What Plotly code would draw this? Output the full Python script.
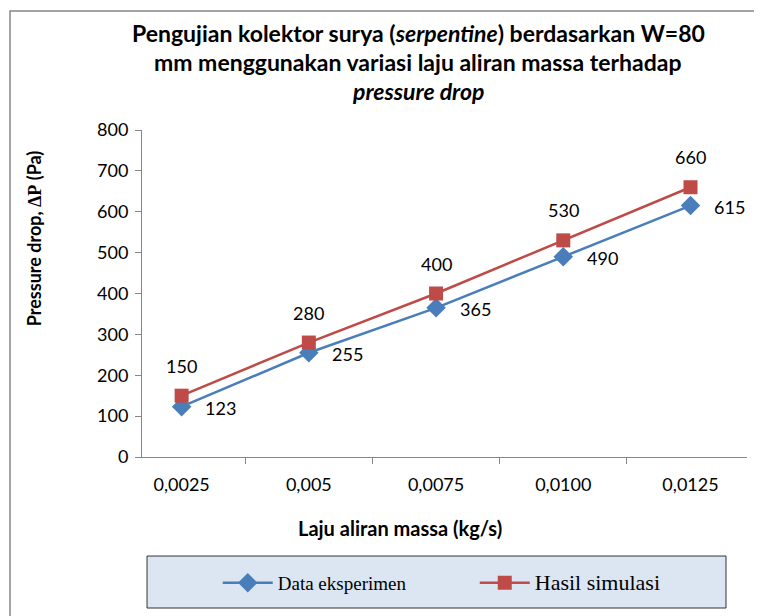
import plotly.graph_objects as go

# data
laju_massa = ["0,0025", "0,005", "0,0075", "0,0100", "0,0125"]
data_eksperimen = [123, 255, 365, 490, 615]
hasil_simulasi = [150, 280, 400, 530, 660]

title_lines = [
    "Pengujian kolektor surya (<i>serpentine</i>) berdasarkan W=80",
    "mm menggunakan variasi laju aliran massa terhadap",
    "<i>pressure drop</i>",
]

BLUE = "#4A7EBB"
RED = "#BE4B48"
AXIS = "#868686"
FONT = "Lato, Calibri, sans-serif"
SERIF = "Liberation Serif, Times New Roman, serif"

fig = go.Figure()

fig.add_trace(go.Scatter(
    x=laju_massa, y=data_eksperimen, name="Data eksperimen",
    mode="lines+markers",
    line=dict(color=BLUE, width=2.5),
    marker=dict(symbol="diamond", size=15, color=BLUE),
))
fig.add_trace(go.Scatter(
    x=laju_massa, y=hasil_simulasi,
    name='<span style="font-size:22px">Hasil simulasi</span>',
    mode="lines+markers",
    line=dict(color=RED, width=2.5),
    marker=dict(symbol="square", size=14, color=RED),
))

# data labels
for cat, v in zip(laju_massa, data_eksperimen):
    fig.add_annotation(x=cat, y=v, text=str(v), showarrow=False,
                       xshift=39, yshift=-1, font=dict(size=18, color="black"))
for cat, v in zip(laju_massa, hasil_simulasi):
    fig.add_annotation(x=cat, y=v, text=str(v), showarrow=False,
                       yshift=30, font=dict(size=18, color="black"))

# title, one line per annotation
for i, line in enumerate(title_lines):
    fig.add_annotation(xref="paper", yref="paper", x=0.457, y=1.296 - i * 0.0887,
                       text=f"<b>{line}</b>", showarrow=False,
                       xanchor="center", yanchor="middle",
                       font=dict(size=23, color="black"))

# axis titles
fig.add_annotation(xref="paper", yref="paper", x=-0.178, y=0.67,
                   text=f"<b>Pressure drop, <span style='font-family:{SERIF}'>ΔP</span> (Pa)</b>",
                   textangle=-90, showarrow=False,
                   xanchor="center", yanchor="middle", font=dict(size=18, color="black"))
fig.add_annotation(xref="paper", yref="paper", x=0.427, y=-0.217,
                   text="<b>Laju aliran massa (kg/s)</b>", showarrow=False,
                   xanchor="center", yanchor="middle", font=dict(size=20, color="black"))

# chart border and legend box
fig.add_shape(type="rect", xref="paper", yref="paper",
              x0=-0.2182, x1=1.2, y0=-0.7, y1=1.364,
              line=dict(color=AXIS, width=1.5), fillcolor="rgba(0,0,0,0)", layer="below")
fig.add_shape(type="rect", xref="paper", yref="paper",
              x0=0.0083, x1=0.9653, y0=-0.4618, y1=-0.3028,
              line=dict(color="#333333", width=1), fillcolor="#DCE6F2", layer="below")

fig.update_xaxes(
    type="category", showline=True, linecolor=AXIS, linewidth=1,
    ticks="outside", tickson="boundaries", ticklen=6, tickcolor=AXIS,
    showgrid=False, tickfont=dict(size=18, color="black"),
    ticklabelstandoff=11,
)
fig.update_yaxes(
    range=[0, 800], dtick=100, showline=True, linecolor=AXIS, linewidth=1,
    ticks="outside", ticklen=6, tickcolor=AXIS, showgrid=False, zeroline=False,
    tickfont=dict(size=18, color="black"), ticklabelstandoff=3,
)

# the page body adds an 8px offset, so the figure is 8px smaller each way
fig.update_layout(
    width=754, height=608,
    margin=dict(l=134, r=15, t=122, b=159),
    paper_bgcolor="white", plot_bgcolor="white",
    font=dict(family=FONT, color="black"),
    showlegend=True,
    legend=dict(
        orientation="h", x=0.55, xanchor="center", y=-0.385, yanchor="middle",
        bgcolor="rgba(0,0,0,0)", font=dict(family=SERIF, size=19, color="black"),
        itemwidth=50, entrywidth=192,
    ),
)

fig.write_html("out.html")
